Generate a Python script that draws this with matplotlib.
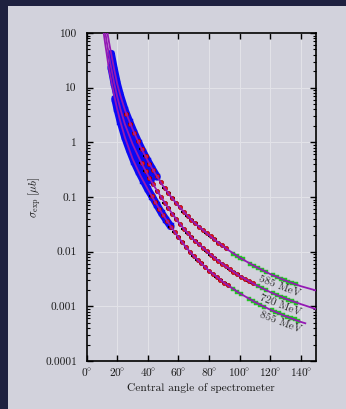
import matplotlib
matplotlib.use('Agg')
import matplotlib.pyplot as plt
from matplotlib.patches import Rectangle
from matplotlib.ticker import FixedLocator, LogLocator, NullFormatter

plt.rcParams['mathtext.fontset'] = 'cm'
plt.rcParams['font.family'] = ['cmr10', 'DejaVu Serif']
plt.rcParams['axes.formatter.use_mathtext'] = True

# ---------------- data ----------------
energies = ['585 MeV', '720 MeV', '855 MeV']

# theory curves
theta_585 = [12, 13, 14, 15, 16, 18, 20, 22, 25, 30, 35, 40, 45, 50, 55, 60, 65, 70, 80, 90, 100, 110, 120, 130, 140, 150]
sigma_585 = [190, 126, 85, 59, 42, 21.4, 11.7, 7.2, 3.9, 1.74, 0.85, 0.457, 0.263, 0.158, 0.102, 0.069, 0.048, 0.0347,
             0.020, 0.0120, 0.0078, 0.0054, 0.0039, 0.00295, 0.00234, 0.00195]
theta_720 = [11.5, 12, 13, 14, 15, 16, 18, 20, 22, 25, 30, 35, 40, 45, 50, 55, 60, 65, 70, 80, 90, 100, 110, 120, 130, 140, 150]
sigma_720 = [140, 112, 72, 49, 33, 23.4, 12.0, 6.8, 4.1, 2.14, 0.93, 0.468, 0.251, 0.145, 0.087, 0.054, 0.0347, 0.0234,
             0.0166, 0.0093, 0.0056, 0.0036, 0.00251, 0.00182, 0.00138, 0.0011, 0.00089]
theta_855 = [10.5, 11, 12, 13, 14, 15, 16, 18, 20, 22, 25, 30, 35, 40, 45, 50, 55, 60, 65, 70, 80, 90, 100, 110, 120, 130, 140, 143]
sigma_855 = [135, 105, 66, 43, 28, 19.5, 13.8, 7.1, 4.0, 2.4, 1.23, 0.50, 0.251, 0.138, 0.079, 0.047, 0.029, 0.0182, 0.0120,
             0.0083, 0.00447, 0.00269, 0.00174, 0.0012, 0.00087, 0.00066, 0.00052, 0.00049]

# forward-angle data (blue)
blue_theta_585 = [16, 18, 20, 22, 25, 28, 31, 34, 37, 40, 43, 46]
blue_sigma_585 = [42, 21.4, 11.7, 7.2, 3.9, 2.4, 1.51, 0.98, 0.66, 0.457, 0.324, 0.234]
blue_theta_720 = [16, 18, 20, 22, 25, 28, 31, 34, 37, 40, 42]
blue_sigma_720 = [23.4, 12.0, 6.8, 4.1, 2.14, 1.32, 0.81, 0.54, 0.363, 0.251, 0.20]
blue_theta_855 = [18.5, 20, 22, 25, 28, 31, 34, 37, 40, 43, 46, 49, 52, 55]
blue_sigma_855 = [6.2, 4.0, 2.4, 1.23, 0.72, 0.44, 0.29, 0.20, 0.138, 0.100, 0.071, 0.051, 0.038, 0.029]

# mid-angle data (red)
red_theta_585 = [26, 28.5, 31, 33.5, 36, 38.5, 41, 43.5, 46, 48.5, 51, 53.5, 56, 58.5, 61, 63.5, 66, 68.5, 71, 73.5,
                 76, 78.5, 81, 83.5, 86, 88.5, 91]
red_sigma_585 = [3.31, 2.21, 1.51, 1.054, 0.752, 0.551, 0.409, 0.310, 0.238, 0.185, 0.145, 0.117, 0.0946, 0.0778,
                 0.0643, 0.0535, 0.0449, 0.0382, 0.0328, 0.0286, 0.0249, 0.0217, 0.0190, 0.0167, 0.0147, 0.0130, 0.0115]
red_theta_720 = [36, 38.5, 41, 43.5, 46, 48.5, 51, 53.5, 56, 58.5, 61, 63.5, 66, 68.5, 71, 73.5, 76, 78.5, 81, 83.5,
                 86, 88.5, 91, 93.5, 96, 98.5, 101, 103.5, 106, 108.5]
red_sigma_720 = [0.413, 0.303, 0.225, 0.171, 0.1306, 0.1014, 0.0791, 0.0621, 0.0492, 0.0395, 0.0321, 0.0264, 0.0219,
                 0.0184, 0.0157, 0.01357, 0.01175, 0.01018, 0.00887, 0.00782, 0.00689, 0.00607, 0.00538, 0.00483,
                 0.00433, 0.00388, 0.00350, 0.00319, 0.00291, 0.00265]
red_theta_855 = [42.5, 45, 47.5, 50, 52.5, 55, 57.5, 60, 62.5, 65, 67.5, 70, 72.5, 75, 77.5, 80, 82.5, 85, 87.5, 90, 92.5]
red_sigma_855 = [0.1047, 0.0794, 0.0610, 0.0468, 0.0367, 0.0288, 0.0229, 0.0182, 0.0148, 0.0120, 0.0100, 0.00832,
                 0.00712, 0.00610, 0.00522, 0.00447, 0.00394, 0.00347, 0.00305, 0.00269, 0.00241]

# backward-angle data (green)
green_theta_585 = [96, 98, 100, 102, 107, 109.5, 112, 114.5, 117, 122, 124.5, 127, 129.5, 132, 134.5, 137]
green_sigma_585 = [0.00925, 0.00847, 0.00776, 0.00721, 0.00600, 0.00547, 0.00504, 0.00465, 0.00429, 0.00368, 0.00344,
                   0.00321, 0.00299, 0.00282, 0.00266, 0.00251]
green_theta_720 = [112, 114.5, 117, 122, 124.5, 127, 129.5, 132, 134.5, 137]
green_sigma_720 = [0.00236, 0.00217, 0.00200, 0.00172, 0.00161, 0.00150, 0.00140, 0.00132, 0.00124, 0.00117]
green_theta_855 = [96, 98.5, 101, 106, 108.5, 111, 113.5, 116, 121, 123.5, 126, 128.5, 131, 133.5, 136, 138.5]
green_sigma_855 = [0.00207, 0.00186, 0.00167, 0.00139, 0.00127, 0.00116, 0.00107, 0.00099, 0.00085, 0.00079, 0.00074,
                   0.00069, 0.00065, 0.00061, 0.00058, 0.00054]

# label anchors
label_theta = [126.3, 127, 127]
label_sigma = [0.00236, 0.00106, 0.000517]

xticks = [0, 20, 40, 60, 80, 100, 120, 140]
xticklabels = [r'$0^{\!\!\circ}$', r'$20^{\!\!\circ}$', r'$40^{\!\!\circ}$', r'$60^{\!\!\circ}$', r'$80^{\!\!\circ}$',
               r'$100^{\!\!\circ}$', r'$120^{\!\!\circ}$', r'$140^{\!\!\circ}$']
yticks = [1e-4, 1e-3, 1e-2, 1e-1, 1, 10, 100]
yticklabels = ['0.0001', '0.001', '0.01', '0.1', '1', '10', '100']

# ---------------- figure ----------------
W, H = 346, 409
fig = plt.figure(figsize=(W / 100, H / 100), dpi=100)
fig.patch.set_facecolor('#1e2140')
fig.add_artist(Rectangle((8 / W, 0), 1, 1 - 6 / H, transform=fig.transFigure,
                         facecolor='#d2d2dc', edgecolor='none', zorder=0))

ax = fig.add_axes([86.7 / W, 1 - 361 / H, (316 - 86.7) / W, (361 - 33) / H])
ax.set_facecolor('none')
ax.set_yscale('log')
ax.set_xlim(0, 150)
ax.set_ylim(1e-4, 100)

ax.grid(True, which='major', color='#e2e2e8', lw=0.8, zorder=0)
ax.set_axisbelow(True)

PURPLE = '#9418b4'
BLUE = '#0a0af5'
RED = '#f01414'
GREEN = '#22c422'

blue_sets = [(blue_theta_585, blue_sigma_585), (blue_theta_720, blue_sigma_720), (blue_theta_855, blue_sigma_855)]
red_sets = [(red_theta_585, red_sigma_585), (red_theta_720, red_sigma_720), (red_theta_855, red_sigma_855)]
green_sets = [(green_theta_585, green_sigma_585), (green_theta_720, green_sigma_720), (green_theta_855, green_sigma_855)]
curves = [(theta_585, sigma_585), (theta_720, sigma_720), (theta_855, sigma_855)]

for t, s in blue_sets:
    ax.errorbar(t, s, xerr=2.2, fmt='none', ecolor='black', elinewidth=1.2, capsize=0, zorder=1.9)
    ax.plot(t, s, color=BLUE, lw=5.4, solid_capstyle='round', zorder=2.1)
    ax.plot(t, s, ls='none', marker='s', ms=4.2, mfc=BLUE, mec=BLUE, mew=0.3, zorder=2.2)

for t, s in red_sets:
    ax.errorbar(t, s, xerr=1.5, fmt='none', ecolor='black', elinewidth=1.5, capsize=0, zorder=3)
    ax.plot(t, s, ls='none', marker='o', ms=3.0, mfc=RED, mec='#a00010', mew=0.5, zorder=4)

for t, s in green_sets:
    ax.errorbar(t, s, xerr=0.8, fmt='none', ecolor='black', elinewidth=1.0, capsize=0, zorder=3)
    ax.plot(t, s, ls='none', marker='s', ms=2.6, mfc=GREEN, mec=GREEN, mew=0.3, zorder=4)

for t, s in curves:
    ax.plot(t, s, color=PURPLE, lw=1.3, zorder=5)

for lab, lt, ls_ in zip(energies, label_theta, label_sigma):
    ax.text(lt, ls_, lab, rotation=-21, ha='center', va='center', fontsize=8.0,
            color='#303030', zorder=6)

# ticks
ax.xaxis.set_major_locator(FixedLocator(xticks))
ax.set_xticklabels(xticklabels)
ax.yaxis.set_major_locator(FixedLocator(yticks))
ax.set_yticklabels(yticklabels)
ax.yaxis.set_minor_locator(LogLocator(base=10, subs=range(2, 10), numticks=20))
ax.yaxis.set_minor_formatter(NullFormatter())
ax.tick_params(which='both', direction='in', top=True, right=True, colors='black', labelcolor='#1a1a1a')
ax.tick_params(which='major', length=4.2, width=1.0, labelsize=8.2)
ax.tick_params(which='minor', length=2.2, width=0.8)
ax.tick_params(axis='y', which='major', pad=7)
ax.tick_params(axis='x', which='major', pad=4)
for sp in ax.spines.values():
    sp.set_linewidth(1.2)

ax.set_xlabel('Central angle of spectrometer', fontsize=8.2, color='#1a1a1a', labelpad=3)
ax.set_ylabel(r'$\sigma_{\rm exp}\ [\mu b]$', fontsize=8.2, color='#1a1a1a', labelpad=1)

fig.savefig('out.png', dpi=100, facecolor=fig.get_facecolor())
